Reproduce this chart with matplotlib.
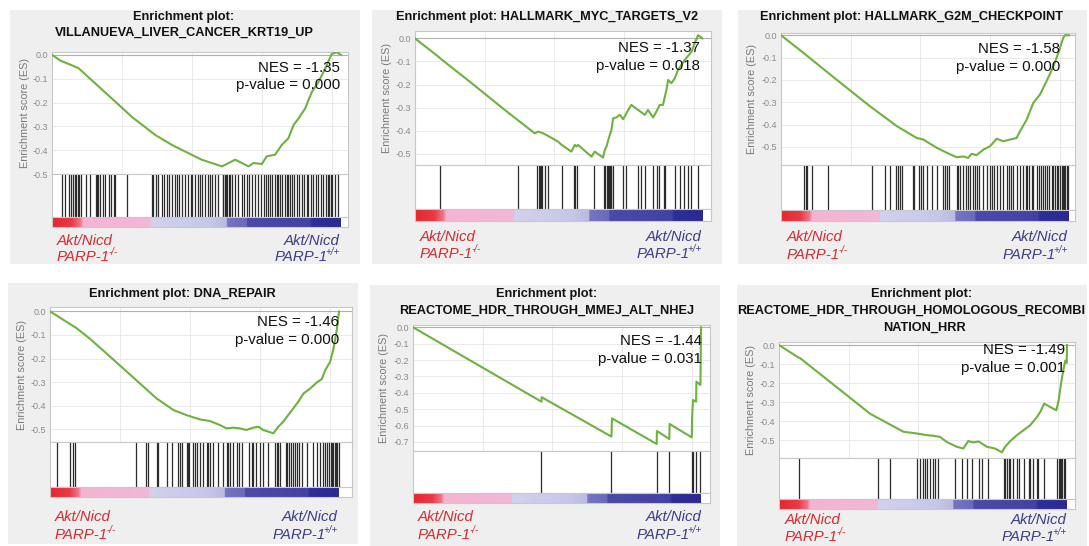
import matplotlib
matplotlib.use("Agg")
import matplotlib.pyplot as plt
from matplotlib.colors import LinearSegmentedColormap
from matplotlib.patches import Rectangle
import numpy as np

plt.rcParams["font.family"] = ["Liberation Sans", "DejaVu Sans"]

# ---- data (x = position in ranked list, %) ----
titles = [
    ["Enrichment plot:", "VILLANUEVA_LIVER_CANCER_KRT19_UP"],
    ["Enrichment plot: HALLMARK_MYC_TARGETS_V2"],
    ["Enrichment plot: HALLMARK_G2M_CHECKPOINT"],
    ["Enrichment plot: DNA_REPAIR"],
    ["Enrichment plot:", "REACTOME_HDR_THROUGH_MMEJ_ALT_NHEJ"],
    ["Enrichment plot:", "REACTOME_HDR_THROUGH_HOMOLOGOUS_RECOMBI", "NATION_HRR"],
]
nes_values = [-1.35, -1.37, -1.58, -1.46, -1.44, -1.49]
p_values = [0.000, 0.018, 0.000, 0.000, 0.031, 0.001]

es1_x = [0, 2.9, 6.9, 9.2, 13.8, 20.7, 27.6, 35.7, 41.5, 46.1, 51.8, 55.3, 58.8, 61.1, 63.4, 65.7,
         68.0, 69.7, 72.6, 74.3, 77.2, 79.5, 81.8, 83.6, 85.3, 87.6, 89.9, 92.2, 94.5, 96.8, 98.5, 100]
es1_y = [0, -0.024, -0.044, -0.056, -0.107, -0.183, -0.26, -0.336, -0.378, -0.406, -0.44, -0.454,
         -0.468, -0.454, -0.44, -0.454, -0.468, -0.454, -0.458, -0.426, -0.419, -0.378, -0.35, -0.294,
         -0.267, -0.225, -0.156, -0.114, -0.058, 0.004, 0.011, 0.0]
es2_x = [0, 8.1, 9.2, 19.7, 31.2, 41.6, 42.8, 44.5, 46.2, 49.7, 50.9, 54.3, 55.5, 56.1, 56.6, 61.3,
         62.4, 65.3, 65.9, 66.5, 67.1, 68.2, 68.8, 69.9, 71.1, 72.3, 73.4, 75.1, 79.8, 80.9, 82.7,
         83.8, 85.0, 86.1, 87.3, 87.9, 89.0, 90.2, 91.3, 93.6, 96.0, 97.1, 98.3, 99.8]
es2_y = [0, -0.079, -0.091, -0.194, -0.31, -0.411, -0.403, -0.411, -0.422, -0.447, -0.461, -0.49,
         -0.461, -0.468, -0.461, -0.512, -0.49, -0.516, -0.483, -0.468, -0.44, -0.396, -0.346,
         -0.342, -0.331, -0.35, -0.324, -0.288, -0.331, -0.31, -0.342, -0.317, -0.288, -0.288,
         -0.223, -0.18, -0.194, -0.173, -0.137, -0.094, -0.058, -0.022, 0.014, 0.0]
es3_x = [0, 7.8, 19.3, 30.9, 40.2, 47.1, 49.4, 54.1, 58.8, 61.0, 63.3, 65.0, 66.2, 67.9, 70.3, 72.6,
         74.9, 77.2, 79.5, 81.8, 83.0, 85.3, 87.6, 89.9, 92.2, 94.6, 96.3, 98.0, 98.6, 100]
es3_y = [0, -0.079, -0.199, -0.318, -0.407, -0.46, -0.467, -0.504, -0.534, -0.546, -0.543, -0.549,
         -0.531, -0.537, -0.512, -0.497, -0.463, -0.475, -0.467, -0.46, -0.43, -0.378, -0.303,
         -0.266, -0.206, -0.139, -0.079, -0.012, 0.0, 0.0]
es4_x = [0, 2.3, 5.8, 9.2, 13.8, 19.6, 25.4, 31.1, 36.9, 42.7, 47.3, 51.9, 55.4, 58.8, 61.1, 63.4,
         65.7, 68.0, 70.3, 72.1, 73.8, 77.3, 79.0, 80.7, 82.4, 84.2, 85.9, 87.7, 90.0, 92.3, 94.0,
         95.2, 96.9, 98.1, 99.2, 100]
es4_y = [0, -0.017, -0.045, -0.071, -0.116, -0.179, -0.243, -0.306, -0.37, -0.419, -0.441, -0.459,
         -0.466, -0.483, -0.497, -0.494, -0.497, -0.504, -0.494, -0.49, -0.504, -0.518, -0.49,
         -0.469, -0.441, -0.412, -0.384, -0.349, -0.328, -0.302, -0.288, -0.25, -0.215, -0.158,
         -0.081, 0.0]
es5_x = [0, 44.6, 44.7, 68.9, 69.1, 84.6, 84.7, 89.0, 89.1, 96.8, 96.9, 97.2, 98.3, 98.4, 99.8, 100]
es5_y = [0, -0.454, -0.427, -0.667, -0.556, -0.712, -0.633, -0.682, -0.590, -0.672, -0.556, -0.444,
         -0.454, -0.332, -0.352, 0.0]
es6_x = [0, 6.6, 7.4, 20.0, 31.6, 43.2, 47.8, 51.3, 53.6, 55.9, 58.2, 61.7, 64.0, 65.7, 67.5, 69.3,
         72.2, 75.0, 77.4, 78.5, 80.3, 82.6, 84.9, 87.2, 89.6, 90.7, 92.1, 94.2, 96.3, 97.1, 97.9,
         98.8, 99.4, 99.9, 100]
es6_y = [0, -0.064, -0.07, -0.221, -0.361, -0.456, -0.465, -0.474, -0.477, -0.483, -0.509, -0.535,
         -0.544, -0.505, -0.512, -0.507, -0.535, -0.544, -0.564, -0.535, -0.505, -0.474, -0.448,
         -0.422, -0.378, -0.352, -0.308, -0.326, -0.343, -0.291, -0.204, -0.125, -0.082, -0.094, 0.0]

hits1 = [3.5, 4.4, 6.0, 6.7, 7.1, 7.8, 8.3, 9.0, 9.2, 10.1, 11.8, 13.2, 15.2, 15.6, 15.9, 16.5, 17.5,
         18.4, 19.6, 20.4, 21.3, 21.9, 25.9, 34.6, 35.1, 35.9, 36.6, 38.0, 38.6, 39.7, 40.6, 41.5,
         42.4, 43.2, 43.8, 44.9, 46.1, 47.2, 48.2, 48.6, 49.5, 50.5, 51.3, 51.8, 53.0, 54.1, 54.7,
         55.3, 56.5, 57.6, 59.0, 59.3, 59.7, 60.1, 60.6, 61.1, 61.6, 62.2, 63.4, 64.3, 65.7, 66.6,
         67.4, 68.2, 69.1, 70.3, 71.4, 72.4, 73.2, 74.0, 74.7, 75.5, 76.0, 77.0, 77.8, 78.3, 78.9,
         79.7, 80.6, 81.2, 81.8, 82.4, 83.2, 83.9, 84.7, 85.5, 86.4, 87.3, 88.1, 88.7, 89.6, 90.4,
         91.2, 92.2, 93.1, 93.9, 94.7, 95.4, 95.9, 96.5, 97.0, 97.9, 98.8]
hits2 = [8.7, 35.8, 42.5, 43.0, 43.4, 43.7, 44.2, 45.1, 46.2, 50.9, 55.3, 55.7, 56.4, 62.2, 65.7,
         66.1, 66.6, 67.1, 67.3, 67.6, 68.0, 68.2, 68.8, 72.3, 73.4, 77.5, 78.6, 79.8, 82.7, 84.2,
         84.6, 86.5, 86.9, 90.2, 91.9, 93.4, 94.8, 96.0, 98.3]
hits3 = [8.0, 8.7, 9.1, 10.6, 16.4, 31.5, 36.1, 37.8, 39.9, 40.7, 41.3, 41.9, 45.7, 46.2, 48.0, 48.5,
         49.4, 50.6, 52.3, 54.1, 56.1, 56.9, 57.5, 58.4, 61.0, 61.6, 62.2, 63.1, 64.2, 65.0, 65.6,
         66.6, 67.4, 67.9, 68.9, 70.3, 71.4, 72.6, 73.1, 73.9, 74.9, 76.0, 77.2, 78.4, 79.3, 79.7,
         80.7, 81.8, 83.0, 84.1, 85.1, 85.5, 86.2, 87.0, 87.6, 88.8, 89.7, 90.2, 90.9, 91.7, 92.2,
         93.2, 94.0, 94.6, 95.1, 95.7, 96.3, 96.9, 97.5, 97.8, 98.3, 98.7, 99.2, 99.8]
hits4 = [2.5, 6.9, 8.1, 8.7, 29.8, 33.2, 34.0, 36.9, 37.5, 40.4, 42.1, 44.4, 45.0, 45.6, 47.3, 47.6,
         48.0, 49.6, 50.2, 50.7, 51.9, 53.1, 54.2, 54.8, 55.4, 56.5, 58.2, 59.7, 61.4, 61.7, 62.3,
         63.2, 64.6, 65.5, 66.3, 69.0, 69.8, 70.4, 71.3, 72.7, 73.6, 75.5, 77.9, 78.4, 79.0, 79.6,
         81.7, 82.1, 82.8, 83.3, 84.0, 84.8, 85.6, 86.3, 87.1, 88.8, 91.1, 92.3, 93.4, 94.3, 95.2,
         96.0, 96.7, 97.1, 97.6, 98.0, 98.5, 99.0, 99.4, 99.9]
hits5 = [44.6, 68.9, 84.6, 89.0, 96.8, 97.1, 98.3, 99.8]
hits6 = [7.0, 34.5, 38.7, 47.8, 49.0, 49.9, 50.7, 51.5, 52.4, 53.4, 54.2, 55.3, 61.1, 63.5, 65.2,
         66.9, 69.3, 70.4, 72.7, 78.0, 78.5, 79.1, 79.7, 80.3, 81.4, 82.6, 83.5, 84.9, 86.7, 87.2,
         88.2, 89.6, 90.1, 92.1, 96.5, 97.1, 97.4, 97.9, 98.4, 98.8, 99.4]

es_x = [es1_x, es2_x, es3_x, es4_x, es5_x, es6_x]
es_y = [es1_y, es2_y, es3_y, es4_y, es5_y, es6_y]
hits = [hits1, hits2, hits3, hits4, hits5, hits6]
ytick_min = [-0.5, -0.5, -0.5, -0.5, -0.7, -0.5]

# ---- layout (pixels of the 1089x546 image) ----
W, H = 1089, 546
layout = [
    dict(box=(10, 10, 360, 264), tx=[184, 184], ty=[17, 33], es=(52, 52, 348, 174), xe=341,
         hits=(174, 217), bar=(217, 227), ylim=(-0.5, 0.012), ylx=25,
         nes=(340, 68, 85), lab=(57, 340, 241, 257)),
    dict(box=(372, 10, 722, 264), tx=[547], ty=[17], es=(415, 31, 711, 165), xe=703,
         hits=(165, 209), bar=(209, 221), ylim=(-0.548, 0.032), ylx=387,
         nes=(700, 48, 66), lab=(420, 702, 237, 254)),
    dict(box=(738, 10, 1087, 264), tx=[912], ty=[17], es=(781, 33, 1075, 165), xe=1069,
         hits=(165, 210), bar=(210, 221), ylim=(-0.581, 0.010), ylx=752,
         nes=(1060, 49, 67), lab=(787, 1068, 237, 255)),
    dict(box=(8, 283, 358, 544), tx=[182], ty=[294], es=(50, 307, 352, 442), xe=339,
         hits=(442, 487), bar=(487, 497), ylim=(-0.555, 0.019), ylx=22,
         nes=(339, 322, 340), lab=(55, 338, 517, 535)),
    dict(box=(370, 285, 720, 546), tx=[547, 547], ty=[294, 311], es=(413, 325, 710, 451), xe=701,
         hits=(451, 493), bar=(493, 503), ylim=(-0.755, 0.014), ylx=384,
         nes=(702, 341, 359), lab=(418, 702, 517, 535)),
    dict(box=(737, 285, 1087, 546), tx=[922, 911, 925], ty=[294, 311, 328],
         es=(779, 342, 1075, 458), xe=1067,
         hits=(458, 499), bar=(499, 509), ylim=(-0.594, 0.016), ylx=751,
         nes=(1065, 350, 368), lab=(785, 1067, 520, 537)),
]

bar_cmap = LinearSegmentedColormap.from_list("ranked", [
    (0.0, "#e8262e"), (0.065, "#ea3a44"), (0.1, "#f07d92"), (0.104, "#f4b4d2"),
    (0.343, "#f2b8d6"), (0.345, "#d2d2ee"), (0.55, "#c6c6e8"), (0.606, "#babae2"),
    (0.608, "#7474c2"), (0.675, "#6a6abc"), (0.677, "#4a4aa8"), (0.897, "#4242a2"),
    (0.899, "#2e2e98"), (1.0, "#2a2a90"),
])

RED = "#dc2a2e"
BLUE = "#3c3c8e"
GREEN = "#6cb33f"


def fx(px):
    return px / W


def fy(py):
    return 1 - py / H


def px_axes(fig, x0, y0, x1, y1):
    return fig.add_axes([x0 / W, 1 - y1 / H, (x1 - x0) / W, (y1 - y0) / H])


def style_spines(ax):
    for s in ax.spines.values():
        s.set_color("#c8c8c8")
        s.set_linewidth(0.8)


fig = plt.figure(figsize=(W / 100, H / 100), dpi=100)
fig.patch.set_facecolor("white")
renderer = fig.canvas.get_renderer()

for i, lay in enumerate(layout):
    bx0, by0, bx1, by1 = lay["box"]
    fig.add_artist(Rectangle((fx(bx0), fy(by1)), (bx1 - bx0) / W, (by1 - by0) / H,
                             transform=fig.transFigure, facecolor="#efefef",
                             edgecolor="none", zorder=0))

    x0, y0, x1, y1 = lay["es"]
    xmax = 100 * (x1 - x0) / (lay["xe"] - x0)
    grid_x = [100 * r / 20650 for r in (5000, 10000, 15000, 20000)]

    # running enrichment score
    ax = px_axes(fig, x0, y0, x1, y1)
    ax.plot(es_x[i], es_y[i], color=GREEN, lw=1.5, zorder=3)
    ax.set_xlim(0, xmax)
    ax.set_ylim(*lay["ylim"])
    ticks = np.round(np.arange(0, ytick_min[i] - 0.01, -0.1), 1)
    ax.set_yticks(ticks)
    ax.set_yticklabels([f"{t:.1f}" for t in ticks])
    ax.set_xticks([])
    ax.tick_params(axis="y", length=0, pad=3, labelsize=6.5, labelcolor="#8a8a8a")
    for t in ticks[1:]:
        ax.axhline(t, color="#e6e6e6", lw=0.6, zorder=1)
    for g in grid_x:
        ax.axvline(g, color="#e6e6e6", lw=0.6, zorder=1)
    ax.axhline(0, color="#b0b0b0", lw=0.8, zorder=2)
    style_spines(ax)
    fig.text(fx(lay["ylx"]), fy((y0 + y1) / 2), "Enrichment score (ES)", rotation=90,
             ha="center", va="center", fontsize=7.8, color="#7a7a7a")

    nx, ny1, ny2 = lay["nes"]
    fig.text(fx(nx), fy(ny1), f"NES = {nes_values[i]:.2f}", ha="right", va="center",
             fontsize=10.8, color="#111111")
    fig.text(fx(nx), fy(ny2), f"p-value = {p_values[i]:.3f}", ha="right", va="center",
             fontsize=10.8, color="#111111")

    # hit positions
    hy0, hy1 = lay["hits"]
    axh = px_axes(fig, x0, hy0, x1, hy1)
    axh.vlines(hits[i], 0, 1, color="#2b2b2b", lw=0.9)
    axh.set_xlim(0, xmax)
    axh.set_ylim(0, 1)
    axh.set_xticks([])
    axh.set_yticks([])
    style_spines(axh)

    # ranked list metric bar
    ry0, ry1 = lay["bar"]
    axb = px_axes(fig, x0, ry0, x1, ry1)
    axb.imshow(np.linspace(0, 1, 600)[None, :], aspect="auto", cmap=bar_cmap,
               extent=(0, 100, 0, 1))
    axb.set_xlim(0, xmax)
    axb.set_ylim(0, 1)
    axb.set_xticks([])
    axb.set_yticks([])
    style_spines(axb)

    # title
    for line, tx, ty in zip(titles[i], lay["tx"], lay["ty"]):
        fig.text(fx(tx), fy(ty), line, ha="center", va="center",
                 fontsize=9.2, fontweight="bold", color="#111111")

    # phenotype labels: "Akt/Nicd" over "PARP-1" with a small superscript genotype
    lx, rx, ly1, ly2 = lay["lab"]
    fig.text(fx(lx), fy(ly1), "Akt/Nicd", ha="left", va="center", fontsize=10.8,
             style="italic", color=RED)
    fig.text(fx(rx), fy(ly1), "Akt/Nicd", ha="right", va="center", fontsize=10.8,
             style="italic", color=BLUE)
    for sup, side, color in (("-/-", "left", RED), ("+/+", "right", BLUE)):
        t = fig.text(fx(lx), fy(ly2), "PARP-1", ha="left", va="center", fontsize=10.8,
                     style="italic", color=color)
        s = fig.text(fx(lx), fy(ly2 - 5), sup, ha="left", va="center", fontsize=7,
                     style="italic", color=color)
        tw = t.get_window_extent(renderer).width
        sw = s.get_window_extent(renderer).width
        if side == "left":
            s.set_x(fx(lx + tw - 2))
        else:
            t.set_x(fx(rx - sw + 2 - tw))
            s.set_x(fx(rx - sw))

fig.savefig("out.png", dpi=100)
